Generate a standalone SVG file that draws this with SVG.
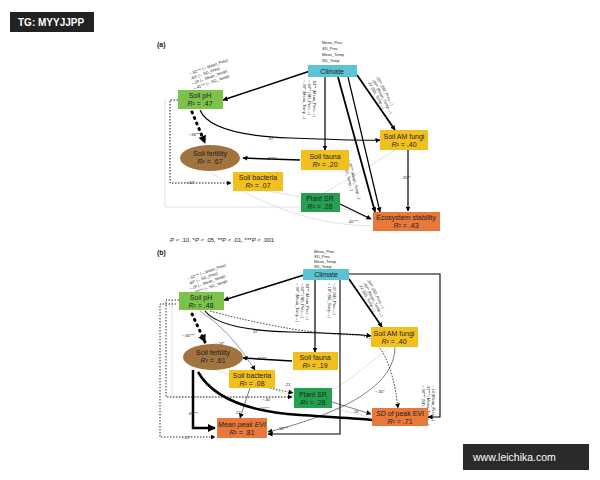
<svg xmlns="http://www.w3.org/2000/svg" width="600" height="480" viewBox="0 0 600 480">
<defs>
<marker id="ah" viewBox="0 0 10 10" refX="9" refY="5" markerWidth="5" markerHeight="5" markerUnits="userSpaceOnUse" orient="auto"><path d="M0,0L10,5L0,10z" fill="#000"/></marker>
<marker id="ahs" viewBox="0 0 10 10" refX="9" refY="5" markerWidth="8" markerHeight="8" markerUnits="userSpaceOnUse" orient="auto"><path d="M0,0L10,5L0,10z" fill="#000"/></marker>
<style>
text{font-family:"Liberation Sans",Arial,sans-serif;fill:#222}
.n{font-size:7px}
.s{font-size:4px}
.l{font-size:6px}
.pH{fill:#7dc24b}.cl{fill:#5cc3d3}.ye{fill:#f2c01e}.br{fill:#a0733f}.dg{fill:#23a050}.or{fill:#e8793b}
.c{fill:none;stroke:#000}
.g{fill:none;stroke:#ccc;stroke-width:0.6}
.d{stroke-dasharray:1.5,1.5}
</style>
</defs>
<rect width="600" height="480" fill="#fff"/>
<g id="wm1"><rect x="10" y="12" width="84" height="20" fill="#222"/><text x="18" y="26" style="font-size:10px;fill:#fff;font-weight:bold">TG: MYYJJPP</text></g>
<g id="wm2"><rect x="463" y="444" width="126" height="26" fill="#2a2a2a"/><text x="473" y="461" style="font-size:10.5px;fill:#fff">www.leichika.com</text></g>

<text x="157" y="47" class="n" font-weight="bold">(a)</text>
<text x="322" y="44" class="s">Mean_Prec</text><text x="322" y="50" class="s">SD_Prec</text><text x="322" y="56" class="s">Mean_Temp</text><text x="322" y="62" class="s">SD_Temp</text>
<text x="170" y="242" class="l"><tspan font-style="italic">P</tspan> &lt; .10, *<tspan font-style="italic">P</tspan> &lt; .05, **<tspan font-style="italic">P</tspan> &lt; .01, ***<tspan font-style="italic">P</tspan> &lt; .001</text>

<g id="connectors-a">
<path class="g" d="M165 98 V207 H300"/>
<path class="g" d="M210 172 Q290 225 372 226"/>
<path class="g" d="M260 190 Q330 200 372 220"/>
<path class="g" d="M395 150 Q340 185 320 195"/>
<path class="c" stroke-width="1.5" d="M310 71 L223 100" marker-end="url(#ah)"/>
<path class="c" stroke-width="1.2" d="M325 77 V150" marker-end="url(#ah)"/>
<path class="c" stroke-width="1.8" d="M338 77 L375 212" marker-end="url(#ah)"/>
<path class="c" stroke-width="1.2" d="M348 77 L380 212" marker-end="url(#ah)"/>
<path class="c" stroke-width="1.8" d="M357 75 L395 130" marker-end="url(#ah)"/>
<path class="c" stroke-width="1.2" d="M200 110 Q210 135 290 138 T380 140" marker-end="url(#ah)"/>
<path class="c" stroke-width="3" stroke-dasharray="1,5" stroke-linecap="round" d="M192 112 L205 143" marker-end="url(#ahs)"/>
<path class="c" stroke-width="1.5" d="M300 160 L243 158" marker-end="url(#ah)"/>
<path class="c d" stroke-width="0.9" d="M178 100 H170 V183 H231" marker-end="url(#ah)"/>
<path class="c" stroke-width="1.2" d="M408 150 V211" marker-end="url(#ah)"/>
<path class="c" stroke-width="1.2" d="M340 204 L371 219" marker-end="url(#ah)"/>
</g>
<g id="labels-a" class="s">
<text x="190" y="75" transform="rotate(-20 190 75)">−.62*** (←Mean_Prec)</text>
<text x="191" y="80" transform="rotate(-20 191 80)">.40* (←SD_Prec)</text>
<text x="192" y="85" transform="rotate(-20 192 85)">−.20 (←Mean_Temp)</text>
<text x="194" y="90" transform="rotate(-20 194 90)">−.41*** (←SD_Temp)</text>
<text x="303" y="80" transform="rotate(90 303 80)">−.39* (Mean_Temp→)</text>
<text x="308" y="80" transform="rotate(90 308 80)">−.64** (SD_Prec→)</text>
<text x="313" y="80" transform="rotate(90 313 80)">.54** (Mean_Prec→)</text>
<text x="376" y="77" transform="rotate(62 376 77)">.38** (SD_Prec→)</text>
<text x="372" y="80" transform="rotate(62 372 80)">.46** (Mean_Temp→)</text>
<text x="368" y="82" transform="rotate(62 368 82)">.22 (SD_Temp→)</text>
<text x="348" y="160" transform="rotate(76 348 160)">−.46** (Mean_Temp→)</text>
<text x="343" y="161" transform="rotate(76 343 161)">.78 (SD_Temp→)</text>
<text x="268" y="140">.37***</text>
<text x="188" y="136">−.68***</text>
<text x="266" y="160">.41***</text>
<text x="185" y="184">−.24*</text>
<text x="402" y="179">.35**</text>
<text x="348" y="223">.45***</text>
</g>
<g id="a-climate"><rect x="308" y="65" width="49" height="12" class="cl"/><text x="332" y="74" class="n" text-anchor="middle">Climate</text></g>
<g id="a-ph"><rect x="178" y="90" width="45" height="19" class="pH"/><text x="200" y="98" class="n" text-anchor="middle">Soil pH</text><text x="200" y="106" class="n" text-anchor="middle"><tspan font-style="italic">R</tspan>² = .47</text></g>
<g id="a-am"><rect x="380" y="130" width="48" height="20" class="ye"/><text x="404" y="139" class="n" text-anchor="middle">Soil AM fungi</text><text x="404" y="147" class="n" text-anchor="middle"><tspan font-style="italic">R</tspan>² = .40</text></g>
<g id="a-fert"><ellipse cx="210" cy="158" rx="30" ry="13" class="br"/><text x="210" y="156" class="n" text-anchor="middle">Soil fertility</text><text x="210" y="164" class="n" text-anchor="middle"><tspan font-style="italic">R</tspan>² = .67</text></g>
<g id="a-fauna"><rect x="301" y="150" width="48" height="20" class="ye"/><text x="325" y="159" class="n" text-anchor="middle">Soil fauna</text><text x="325" y="167" class="n" text-anchor="middle"><tspan font-style="italic">R</tspan>² = .20</text></g>
<g id="a-bact"><rect x="233" y="172" width="50" height="19" class="ye"/><text x="258" y="180" class="n" text-anchor="middle">Soil bacteria</text><text x="258" y="188" class="n" text-anchor="middle"><tspan font-style="italic">R</tspan>² = .07</text></g>
<g id="a-sr"><rect x="301" y="193" width="39" height="19" class="dg"/><text x="320" y="201" class="n" text-anchor="middle">Plant SR</text><text x="320" y="209" class="n" text-anchor="middle"><tspan font-style="italic">R</tspan>² = .28</text></g>
<g id="a-es"><rect x="373" y="212" width="67" height="19" class="or"/><text x="406" y="220" class="n" text-anchor="middle">Ecosystem stability</text><text x="406" y="228" class="n" text-anchor="middle"><tspan font-style="italic">R</tspan>² = .43</text></g>

<text x="157" y="255" class="n" font-weight="bold">(b)</text>
<text x="314" y="253" class="s">Mean_Prec</text><text x="314" y="258" class="s">SD_Prec</text><text x="314" y="263" class="s">Mean_Temp</text><text x="314" y="268" class="s">SD_Temp</text>

<g id="connectors-b">
<path class="g" d="M172 300 V397 H292"/>
<path class="g" d="M390 347 Q350 380 330 392"/>
<path class="g" d="M215 370 Q300 400 371 418"/>
<path class="c" stroke-width="1.5" d="M304 275 L224 300" marker-end="url(#ah)"/>
<path class="c" stroke-width="1.2" d="M315 280 V352" marker-end="url(#ah)"/>
<path class="c" stroke-width="1.1" d="M340 280 V434 H268" marker-end="url(#ah)"/>
<path class="c" stroke-width="1.1" d="M349 274 H440 V417 H428" marker-end="url(#ah)"/>
<path class="c" stroke-width="1.8" d="M349 279 L382 327" marker-end="url(#ah)"/>
<path class="c" stroke-width="1.2" d="M205 311 Q220 330 290 332 T371 336" marker-end="url(#ah)"/>
<path class="c d" stroke-width="0.8" d="M210 311 Q300 335 360 335 Q390 340 398 408" marker-end="url(#ah)"/>
<path class="c" stroke-width="0.4" d="M200 311 Q230 330 255 370" marker-end="url(#ah)"/>
<path class="c" stroke-width="3" stroke-dasharray="1,5" stroke-linecap="round" d="M192 314 L205 342" marker-end="url(#ahs)"/>
<path class="c" stroke-width="1.5" d="M292 361 L243 358" marker-end="url(#ah)"/>
<path class="c d" stroke-width="0.8" d="M179 300 H166 V397 H292" marker-end="url(#ah)"/>
<path class="c d" stroke-width="0.8" d="M176 304 H160 V437 H215" marker-end="url(#ah)"/>
<path class="c" stroke-width="2.5" d="M193 370 V428 H215" marker-end="url(#ahs)"/>
<path class="c" stroke-width="2.5" d="M198 372 Q220 410 300 415 T371 420" marker-end="url(#ahs)"/>
<path class="c" stroke-width="0.5" d="M250 388 L240 418" marker-end="url(#ah)"/>
<path class="c d" stroke-width="0.7" d="M270 388 L293 393" marker-end="url(#ah)"/>
<path class="c" stroke-width="0.5" d="M332 402 L371 414" marker-end="url(#ah)"/>
<path class="c" stroke-width="0.5" d="M395 347 Q395 400 268 432" marker-end="url(#ah)"/>
</g>
<g id="labels-b" class="s">
<text x="188" y="280" transform="rotate(-20 188 280)">−.62*** (←Mean_Prec)</text>
<text x="189" y="285" transform="rotate(-20 189 285)">.40* (←SD_Prec)</text>
<text x="190" y="290" transform="rotate(-20 190 290)">−.20 (←Mean_Temp)</text>
<text x="192" y="295" transform="rotate(-20 192 295)">−.40*** (←SD_Temp)</text>
<text x="296" y="283" transform="rotate(90 296 283)">−.39* (Mean_Temp→)</text>
<text x="301" y="283" transform="rotate(90 301 283)">−.64** (SD_Prec→)</text>
<text x="306" y="283" transform="rotate(90 306 283)">.54** (Mean_Prec→)</text>
<text x="328" y="283" transform="rotate(90 328 283)">−.18* (SD_Temp→)</text>
<text x="333" y="283" transform="rotate(90 333 283)">−.07 (SD_Prec→)</text>
<text x="367" y="280" transform="rotate(62 367 280)">.38** (SD_Prec→)</text>
<text x="363" y="283" transform="rotate(62 363 283)">.46** (Mean_Temp→)</text>
<text x="359" y="285" transform="rotate(62 359 285)">.22 (SD_Temp→)</text>
<text x="432" y="385" transform="rotate(90 432 385)">−.14 (Mean_Prec→)</text>
<text x="427" y="385" transform="rotate(90 427 385)">.32*** (Mean_Temp→)</text>
<text x="422" y="385" transform="rotate(90 422 385)">−.34*** (SD_Temp→)</text>
<text x="252" y="333">.37***</text>
<text x="182" y="337">−.66***</text>
<text x="215" y="345">−.24*</text>
<text x="256" y="360">.41***</text>
<text x="285" y="386">.21</text>
<text x="262" y="401">−.30</text>
<text x="375" y="393">−.30*</text>
<text x="235" y="414">.11*</text>
<text x="259" y="410">.63***</text>
<text x="353" y="413">.16</text>
<text x="188" y="415">.69***</text>
<text x="278" y="430">.18***</text>
<text x="181" y="439">−.22*</text>
</g>
<g id="b-climate"><rect x="303" y="269" width="46" height="11" class="cl"/><text x="326" y="277" class="n" text-anchor="middle">Climate</text></g>
<g id="b-ph"><rect x="179" y="292" width="45" height="18" class="pH"/><text x="201" y="300" class="n" text-anchor="middle">Soil pH</text><text x="201" y="308" class="n" text-anchor="middle"><tspan font-style="italic">R</tspan>² = .48</text></g>
<g id="b-am"><rect x="371" y="327" width="47" height="20" class="ye"/><text x="394" y="336" class="n" text-anchor="middle">Soil AM fungi</text><text x="394" y="344" class="n" text-anchor="middle"><tspan font-style="italic">R</tspan>² = .40</text></g>
<g id="b-fert"><ellipse cx="213" cy="357" rx="30" ry="13" class="br"/><text x="213" y="355" class="n" text-anchor="middle">Soil fertility</text><text x="213" y="363" class="n" text-anchor="middle"><tspan font-style="italic">R</tspan>² = .61</text></g>
<g id="b-fauna"><rect x="293" y="352" width="45" height="18" class="ye"/><text x="315" y="360" class="n" text-anchor="middle">Soil fauna</text><text x="315" y="368" class="n" text-anchor="middle"><tspan font-style="italic">R</tspan>² = .19</text></g>
<g id="b-bact"><rect x="229" y="370" width="46" height="18" class="ye"/><text x="252" y="378" class="n" text-anchor="middle">Soil bacteria</text><text x="252" y="386" class="n" text-anchor="middle"><tspan font-style="italic">R</tspan>² = .08</text></g>
<g id="b-sr"><rect x="294" y="388" width="38" height="20" class="dg"/><text x="313" y="397" class="n" text-anchor="middle">Plant SR</text><text x="313" y="405" class="n" text-anchor="middle"><tspan font-style="italic">R</tspan>² = .28</text></g>
<g id="b-sd"><rect x="372" y="408" width="56" height="18" class="or"/><text x="400" y="416" class="n" text-anchor="middle"><tspan font-style="italic">SD</tspan> of peak EVI</text><text x="400" y="424" class="n" text-anchor="middle"><tspan font-style="italic">R</tspan>² = .71</text></g>
<g id="b-mean"><rect x="217" y="418" width="50" height="20" class="or"/><text x="242" y="427" class="n" text-anchor="middle" font-style="italic">Mean peak EVI</text><text x="242" y="435" class="n" text-anchor="middle"><tspan font-style="italic">R</tspan>² = .81</text></g>
</svg>
